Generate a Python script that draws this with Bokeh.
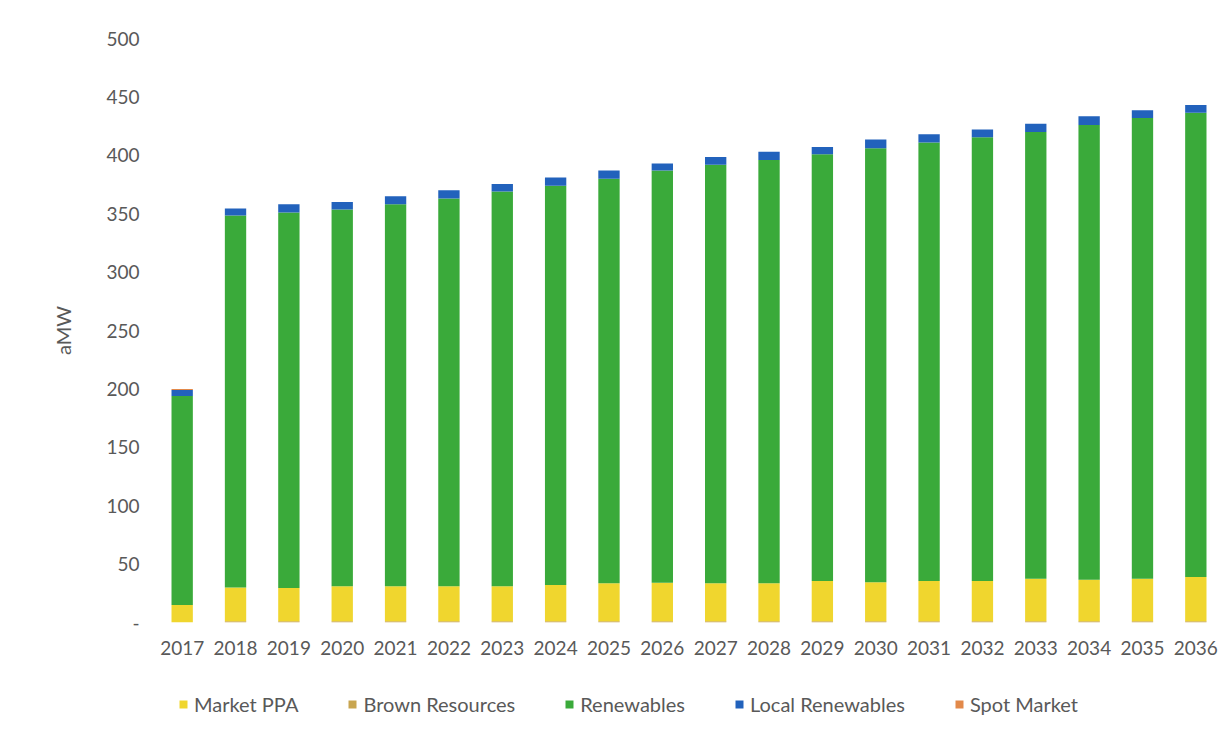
from bokeh.plotting import figure
from bokeh.models import Legend, LegendItem, FixedTicker, Range1d, FactorRange
from bokeh.layouts import column
from bokeh.embed import file_html
from bokeh.resources import INLINE

years = [str(y) for y in range(2017, 2037)]
brown_resources = [0] + [1] * 19
market_ppa = [15, 29, 28.5, 30, 30, 30, 30, 31, 32.5, 33, 32.5, 32.5, 34.5, 33.5, 34.5, 34.5, 36.5, 35.5, 36.5, 38]
renewables = [179, 318.5, 321.5, 322.5, 327, 332, 338, 342, 346.5, 353, 358.5, 362.5, 365.5, 371.5, 375.5, 380, 382.5, 389.5, 394.5, 397.5]
local_renewables = [5, 6, 7, 6.5, 7, 7, 6.5, 7, 7, 6, 6.5, 7, 6, 7.5, 7, 6.5, 7, 7.5, 6.5, 6.5]
spot_market = [1] + [0] * 19

series_names = ["Market PPA", "Brown Resources", "Renewables", "Local Renewables", "Spot Market"]
colors = {"Market PPA": "#F0D62E", "Brown Resources": "#C8A550", "Renewables": "#3AAA3A",
          "Local Renewables": "#2262BC", "Spot Market": "#E2894A"}

data = {"year": years, "Market PPA": market_ppa, "Brown Resources": brown_resources,
        "Renewables": renewables, "Local Renewables": local_renewables, "Spot Market": spot_market}

FONT = "Lato"
TXT = "#595959"

p = figure(x_range=FactorRange(*years, range_padding=0), y_range=Range1d(0, 500),
           width=1225, height=672, output_backend="svg", toolbar_location=None,
           min_border_left=155, min_border_right=3, min_border_top=38, min_border_bottom=50)
p.outline_line_color = None
p.background_fill_color = "white"
p.border_fill_color = "white"
p.xgrid.visible = False
p.ygrid.visible = False

stack_order = ["Brown Resources", "Market PPA", "Renewables", "Local Renewables", "Spot Market"]
p.vbar_stack(stack_order, x="year", width=0.4, source=data,
             color=[colors[s] for s in stack_order], line_width=0)

p.yaxis.ticker = FixedTicker(ticks=list(range(0, 501, 50)))
p.yaxis.major_label_overrides = {0: "-"}
for ax in (p.xaxis, p.yaxis):
    ax.axis_line_color = None
    ax.major_tick_line_color = None
    ax.minor_tick_line_color = None
    ax.major_label_text_font = FONT
    ax.major_label_text_font_size = "19px"
    ax.major_label_text_color = TXT
p.yaxis.axis_label = "aMW"
p.yaxis.axis_label_text_font = FONT
p.yaxis.axis_label_text_font_size = "20px"
p.yaxis.axis_label_text_font_style = "normal"
p.yaxis.axis_label_text_color = TXT
p.yaxis.axis_label_standoff = 28
p.yaxis.major_label_standoff = 10
p.xaxis.major_label_standoff = 12

# legend strip below the chart (dummy renderers sit outside the visible range)
lf = figure(width=1225, height=66, output_backend="svg", toolbar_location=None,
            min_border=0, x_range=Range1d(0, 1), y_range=Range1d(0, 1))
lf.outline_line_color = None
lf.axis.visible = False
lf.grid.visible = False
items = []
for s in series_names:
    r = lf.vbar(x=[-10], top=[-5], bottom=[-6], width=0.1, color=colors[s], line_width=0)
    items.append(LegendItem(label=s, renderers=[r]))
legend = Legend(items=items, orientation="horizontal", location=(23, 22),
                label_text_font=FONT, label_text_font_size="20px", label_text_color=TXT,
                glyph_width=10, glyph_height=10, spacing=49, label_standoff=6,
                border_line_color=None, background_fill_alpha=0, margin=0, padding=4)
lf.add_layout(legend)

layout = column(p, lf, spacing=0)
open("out.html", "w").write(file_html(layout, INLINE))
